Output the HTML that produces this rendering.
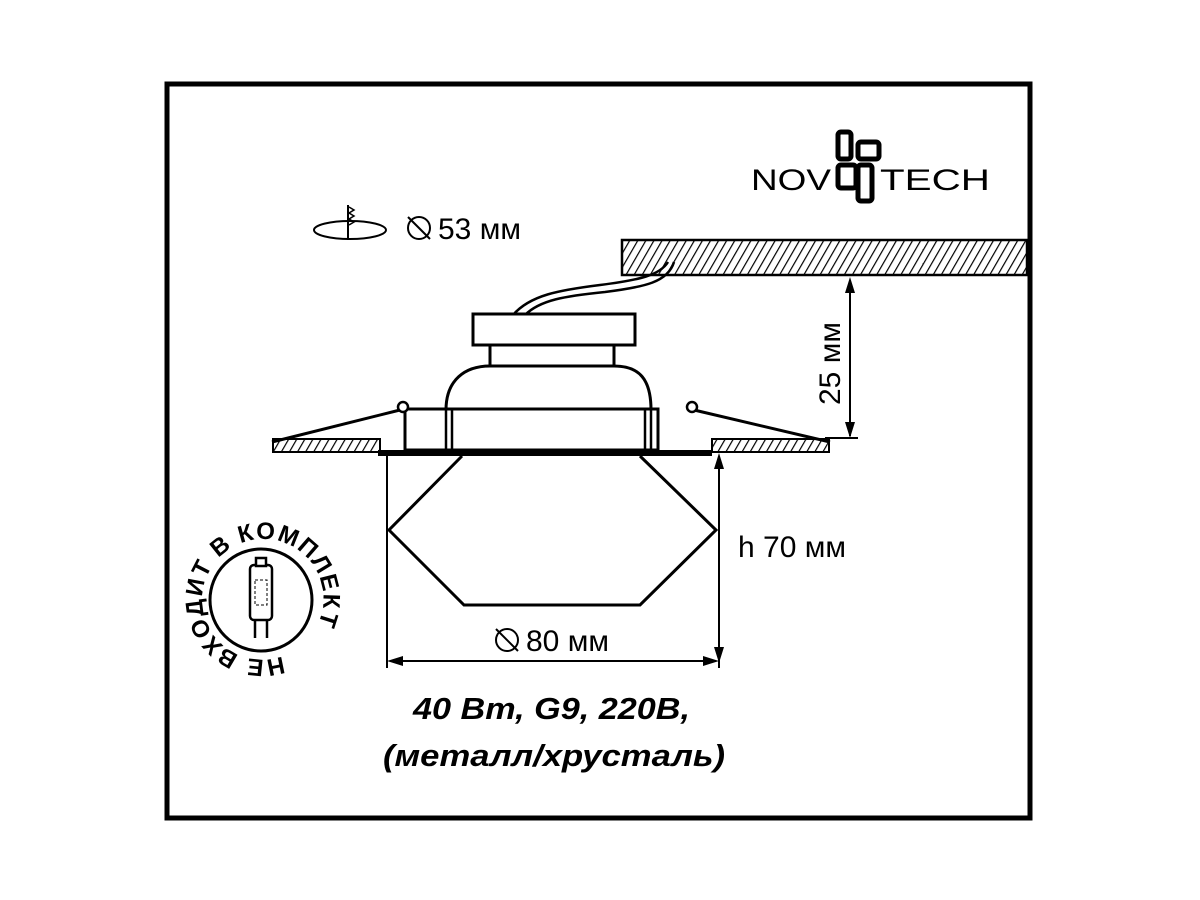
<!DOCTYPE html>
<html><head><meta charset="utf-8"><style>body{margin:0;background:#fff}svg{display:block}</style></head><body>
<svg width="1200" height="900" viewBox="0 0 1200 900" xmlns="http://www.w3.org/2000/svg" font-family="Liberation Sans, sans-serif">
<defs>
<pattern id="h" width="7" height="7" patternUnits="userSpaceOnUse" patternTransform="rotate(30)">
<rect width="7" height="7" fill="#fff"/><line x1="0" y1="0" x2="0" y2="7" stroke="#000" stroke-width="2.4"/></pattern>
<path id="circ" d="M282.5,656 A60,60 0 0 1 240.5,543.6 A60,60 0 1 1 283.2,655.7"/>
</defs>
<rect x="167" y="84" width="863" height="734" fill="none" stroke="#000" stroke-width="5"/>
<!-- logo -->
<g fill="none" stroke="#000" stroke-width="5">
<rect x="838" y="132" width="13" height="27" rx="3"/>
<rect x="858" y="142" width="21" height="17" rx="3"/>
<rect x="838" y="165" width="18" height="23" rx="3"/>
<rect x="858" y="165" width="14" height="36" rx="3"/>
</g>
<text x="751" y="190" font-size="30" textLength="80" lengthAdjust="spacingAndGlyphs">NOV</text>
<text x="880" y="190" font-size="30" textLength="110" lengthAdjust="spacingAndGlyphs">TECH</text>
<!-- drill icon -->
<ellipse cx="350" cy="230" rx="36" ry="9" fill="none" stroke="#000" stroke-width="2"/>
<line x1="348" y1="205" x2="348" y2="240" stroke="#000" stroke-width="2"/>
<path d="M349,207 l5,3 -5,3 5,3 -5,3 5,3 -5,3" fill="none" stroke="#000" stroke-width="1.5"/>
<circle cx="419" cy="228" r="11" fill="none" stroke="#000" stroke-width="2"/>
<line x1="408" y1="217" x2="430" y2="239" stroke="#000" stroke-width="2"/>
<text x="438" y="239" font-size="30">53 мм</text>
<!-- ceiling -->
<rect x="622" y="240" width="405" height="35" fill="url(#h)" stroke="#000" stroke-width="2.5"/>
<!-- 25mm dim -->
<g stroke="#000" stroke-width="2" fill="none">
<line x1="850" y1="280" x2="850" y2="436"/>
<line x1="825" y1="438" x2="858" y2="438"/>
</g>
<path d="M850,277 l-5,16 h10z M850,438 l-5,-16 h10z" fill="#000"/>
<text transform="translate(840,405) rotate(-90)" font-size="30">25 мм</text>
<!-- cable -->
<path d="M513,315 C530,295 560,290 600,285 C640,280 660,275 668,262 M525,315 C540,300 565,296 605,292 C645,287 668,282 674,262" fill="none" stroke="#000" stroke-width="2.5"/>
<!-- flanges -->
<rect x="273" y="439" width="107" height="13" fill="url(#h)" stroke="#000" stroke-width="2"/>
<rect x="712" y="439" width="117" height="13" fill="url(#h)" stroke="#000" stroke-width="2"/>
<g stroke="#000" stroke-width="3" fill="none">
<path d="M272,442 L400,410"/>
<path d="M830,442 L694,410"/>
</g>
<!-- lamp body -->
<g stroke="#000" stroke-width="3" fill="#fff">
<rect x="473" y="314" width="162" height="31"/>
<rect x="490" y="345" width="124" height="21"/>
<path d="M446,410 C446,380 465,366 490,366 H614 C640,366 651,380 651,410"/>
<rect x="405" y="409" width="253" height="41"/>
</g>
<g stroke="#000" stroke-width="2.5">
<line x1="446" y1="410" x2="446" y2="450"/><line x1="452" y1="410" x2="452" y2="450"/>
<line x1="645" y1="410" x2="645" y2="450"/><line x1="651" y1="410" x2="651" y2="450"/>
</g>
<circle cx="403" cy="407" r="5" fill="#fff" stroke="#000" stroke-width="2.5"/>
<circle cx="692" cy="407" r="5" fill="#fff" stroke="#000" stroke-width="2.5"/>
<rect x="378" y="450" width="334" height="6" fill="#000"/>
<!-- crystal -->
<path d="M462,456 L389,530 L464,605 H640 L716,530 L640,456" fill="#fff" stroke="#000" stroke-width="3"/>
<!-- dims -->
<g stroke="#000" stroke-width="2">
<line x1="387" y1="456" x2="387" y2="668"/>
<line x1="719" y1="456" x2="719" y2="668"/>
<line x1="390" y1="661" x2="716" y2="661"/>
</g>
<path d="M387,661 l16,-5 v10z M719,661 l-16,-5 v10z M719,453 l-5,16 h10z M719,663 l-5,-16 h10z" fill="#000"/>
<text x="738" y="557" font-size="30">h 70 мм</text>
<circle cx="507" cy="640" r="11" fill="none" stroke="#000" stroke-width="2"/>
<line x1="496" y1="629" x2="518" y2="651" stroke="#000" stroke-width="2"/>
<text x="526" y="651" font-size="30">80 мм</text>
<!-- specs -->
<text x="413" y="719" font-size="31" font-weight="bold" font-style="italic" textLength="277" lengthAdjust="spacingAndGlyphs">40 Вт, G9, 220В,</text>
<text x="383" y="766" font-size="31" font-weight="bold" font-style="italic" textLength="342" lengthAdjust="spacingAndGlyphs">(металл/хрусталь)</text>
<!-- badge -->
<circle cx="261" cy="600" r="51" fill="none" stroke="#000" stroke-width="3"/>
<text font-size="24" font-weight="bold"><textPath href="#circ" textLength="330" lengthAdjust="spacing">НЕ ВХОДИТ В КОМПЛЕКТ</textPath></text>
<g stroke="#000" stroke-width="2.5" fill="#fff">
<rect x="250" y="565" width="22" height="55" rx="4"/>
<rect x="256" y="558" width="10" height="8"/>
<line x1="255" y1="620" x2="255" y2="638"/><line x1="267" y1="620" x2="267" y2="638"/>
</g>
<rect x="255" y="580" width="12" height="25" fill="none" stroke="#000" stroke-width="1" stroke-dasharray="3,2"/>
</svg>
</body></html>
